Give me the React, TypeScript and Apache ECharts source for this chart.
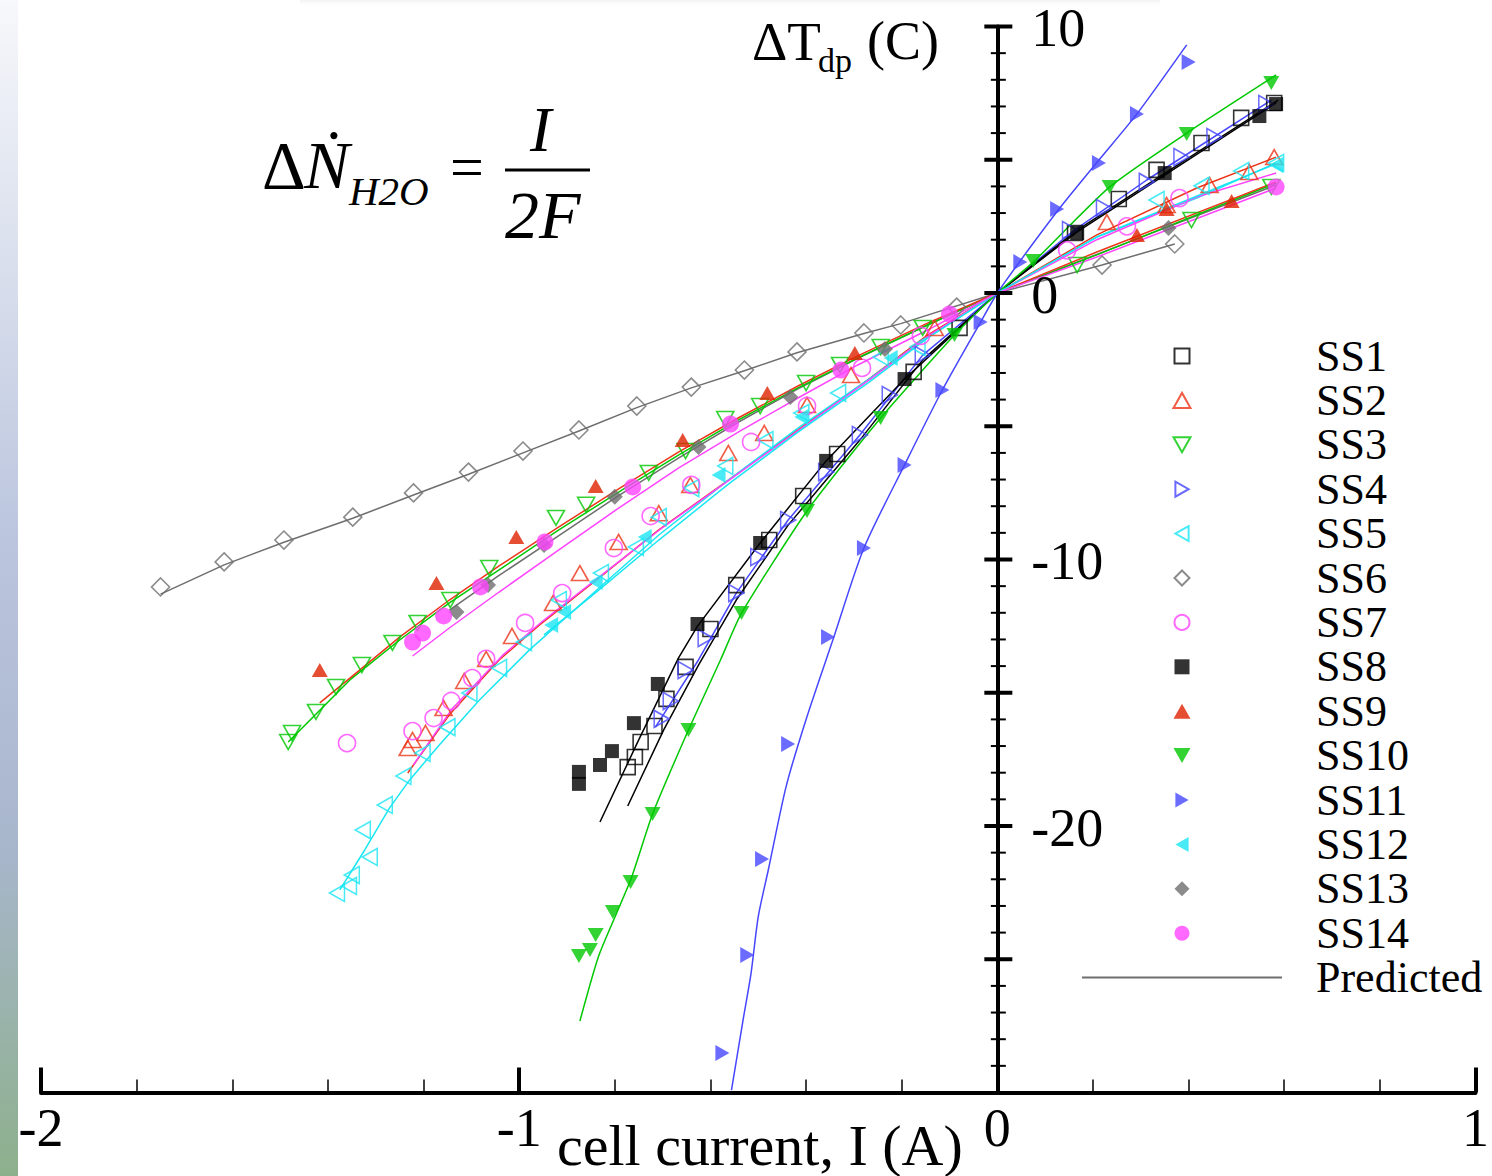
import React, { useEffect, useRef } from 'react';
import * as echarts from 'echarts';

const FONT = '"Liberation Serif", "Times New Roman", "DejaVu Serif", serif';

// ---------- axis ticks / labels ----------
const xTickLabels = [-2, -1, 0, 1];
const yTickLabels = [-20, -10, 0, 10];
const yMajorTicks = [-25, -20, -15, -10, -5, 0, 5, 10];
const yMinorTicks = [-29, -28, -27, -26, -24, -23, -22, -21, -19, -18, -17, -16, -14, -13, -12, -11, -9, -8, -7, -6, -4, -3, -2, -1, 1, 2, 3, 4, 6, 7, 8, 9];

// ---------- measured points [I (A), dT (C)] ----------
const ss1Points = [[-0.773, -17.79], [-0.758, -17.41], [-0.746, -16.85], [-0.717, -16.25], [-0.692, -15.23], [-0.652, -14.03], [-0.6, -12.61], [-0.546, -10.96], [-0.477, -9.27], [-0.406, -7.62], [-0.335, -6.04], [-0.175, -2.96], [-0.079, -1.31], [0.1625, 2.25], [0.254, 3.53], [0.333, 4.62], [0.427, 5.63], [0.51, 6.57], [0.579, 7.13]];
const ss2Points = [[-1.233, -17.07], [-1.223, -16.77], [-1.196, -16.51], [-1.158, -15.57], [-1.115, -14.56], [-1.069, -13.73], [-1.015, -12.87], [-0.929, -11.63], [-0.873, -10.51], [-0.792, -9.34], [-0.708, -8.26], [-0.642, -7.2], [-0.5625, -6.0], [-0.4875, -5.25], [-0.398, -4.2], [-0.306, -3.08], [-0.131, -1.31], [0.229, 2.66], [0.354, 3.3], [0.444, 4.05], [0.527, 4.54], [0.579, 5.1]];
const ss3Points = [[-1.483, -16.85], [-1.475, -16.51], [-1.425, -15.72], [-1.383, -14.78], [-1.329, -13.96], [-1.265, -13.13], [-1.2125, -12.38], [-1.144, -11.52], [-1.0625, -10.32], [-0.923, -8.44], [-0.86, -7.95], [-0.729, -6.75], [-0.652, -5.93], [-0.569, -4.73], [-0.496, -4.24], [-0.4, -3.38], [-0.329, -2.7], [-0.244, -2.03], [-0.156, -1.31], [0.167, 1.05], [0.406, 2.74], [0.573, 3.98]];
const ss4Points = [[-0.702, -15.98], [-0.683, -15.31], [-0.652, -14.15], [-0.61, -12.95], [-0.546, -11.26], [-0.5, -9.91], [-0.4375, -8.52], [-0.358, -6.72], [-0.2875, -5.33], [-0.225, -3.83], [-0.156, -2.33], [0.152, 2.36], [0.223, 3.19], [0.3125, 4.17], [0.385, 5.1], [0.454, 5.85], [0.5625, 7.09]];
const ss5Points = [[-1.381, -22.51], [-1.356, -22.25], [-1.35, -21.84], [-1.3125, -21.16], [-1.327, -20.15], [-1.281, -19.21], [-1.242, -18.12], [-1.202, -17.26], [-1.15, -16.29], [-1.104, -15.01], [-1.042, -14.07], [-0.99, -13.1], [-0.917, -11.52], [-0.829, -10.51], [-0.756, -9.53], [-0.708, -8.41], [-0.64, -7.32], [-0.569, -6.49], [-0.485, -5.52], [-0.41, -4.5], [-0.333, -3.75], [-0.244, -2.4], [-0.167, -2.03], [0.333, 3.49], [0.427, 4.02], [0.51, 4.58], [0.583, 4.88]];
const ss6Points = [[-1.75, -11.03], [-1.617, -10.09], [-1.492, -9.27], [-1.348, -8.41], [-1.221, -7.5], [-1.106, -6.72], [-0.992, -5.93], [-0.875, -5.14], [-0.754, -4.24], [-0.64, -3.53], [-0.529, -2.89], [-0.419, -2.21], [-0.279, -1.5], [-0.202, -1.2], [-0.085, -0.53], [0.219, 1.05], [0.371, 1.84]];
const ss7Points = [[-1.36, -16.89], [-1.223, -16.44], [-1.179, -15.95], [-1.142, -15.31], [-1.098, -14.45], [-1.069, -13.73], [-0.9875, -12.38], [-0.91, -11.26], [-0.802, -9.57], [-0.725, -8.37], [-0.64, -7.2], [-0.515, -5.59], [-0.398, -4.24], [-0.283, -2.81], [-0.16, -1.61], [0.146, 1.6], [0.271, 2.5], [0.381, 3.56]];
const ss8Points = [[-0.875, -17.97], [-0.875, -18.42], [-0.831, -17.71], [-0.806, -17.19], [-0.76, -16.14], [-0.71, -14.67], [-0.627, -12.42], [-0.496, -9.38], [-0.358, -6.3], [-0.194, -3.23], [0.167, 2.25], [0.35, 4.5], [0.548, 6.64], [0.583, 7.09]];
const ss9Points = [[-1.417, -14.15], [-1.173, -10.88], [-1.006, -9.16], [-0.84, -7.24], [-0.658, -5.52], [-0.481, -3.75], [-0.298, -2.25], [0.292, 2.18], [0.354, 3.15], [0.49, 3.45]];
const ss10Points = [[-0.875, -24.88], [-0.852, -24.65], [-0.84, -24.09], [-0.804, -23.23], [-0.767, -22.1], [-0.721, -19.55], [-0.646, -16.4], [-0.535, -12.01], [-0.398, -8.18], [-0.244, -4.69], [-0.0896, -1.58], [0.075, 1.2], [0.235, 3.98], [0.396, 5.97], [0.573, 7.88]];
const ss11Points = [[-0.575, -28.52], [-0.523, -24.84], [-0.492, -21.24], [-0.4375, -16.92], [-0.354, -12.91], [-0.279, -9.57], [-0.194, -6.45], [-0.115, -3.64], [-0.035, -1.09], [0.048, 1.16], [0.125, 3.15], [0.2125, 4.88], [0.292, 6.72], [0.4, 8.67]];
const ss12Points = [[-0.933, -12.46], [-0.906, -11.97], [-0.84, -10.84], [-0.7375, -9.16], [-0.583, -6.83], [-0.41, -4.65], [-0.223, -2.44], [0.583, 4.8]];
const ss13Points = [[-1.131, -11.97], [-1.065, -10.96], [-0.948, -9.46], [-0.8, -7.65], [-0.625, -5.78], [-0.433, -3.9], [-0.235, -2.1], [0.358, 2.44]];
const ss14Points = [[-1.223, -13.1], [-1.202, -12.76], [-1.158, -12.12], [-1.081, -11.03], [-0.946, -9.34], [-0.7625, -7.28], [-0.558, -4.92], [-0.327, -2.89], [-0.1, -0.79], [0.583, 3.98]];

// ---------- predicted curves ----------
const ss1Pred = [[-0.773, -19.25], [-0.698, -16.4], [-0.625, -13.96], [-0.546, -11.52], [-0.4375, -8.71], [-0.2875, -5.52], [-0.156, -2.51], [0, 0], [0.167, 2.29], [0.354, 4.47], [0.583, 7.13]];
const ss2Pred = [[-1.233, -18.01], [-1.146, -15.83], [-1.042, -13.77], [-0.958, -12.46], [-0.833, -10.69], [-0.708, -8.89], [-0.5625, -7.02], [-0.417, -5.14], [-0.271, -3.26], [-0.146, -1.58], [0, 0], [0.208, 2.18], [0.417, 3.94], [0.583, 5.1]];
const ss3Pred = [[-1.483, -16.85], [-1.354, -14.52], [-1.25, -13.02], [-1.146, -11.63], [-1.042, -10.39], [-0.917, -8.89], [-0.792, -7.47], [-0.667, -6.08], [-0.542, -4.77], [-0.417, -3.56], [-0.292, -2.44], [-0.146, -1.2], [0, 0], [0.208, 1.43], [0.583, 4.13]];
const ss4Pred = [[-0.715, -16.29], [-0.625, -13.77], [-0.546, -11.26], [-0.4375, -8.52], [-0.2875, -5.33], [-0.156, -2.33], [0, 0], [0.156, 2.29], [0.3125, 4.24], [0.573, 7.24]];
const ss5Pred = [[-1.375, -22.4], [-1.323, -20.9], [-1.271, -19.32], [-1.229, -18.27], [-1.167, -16.96], [-1.083, -15.27], [-0.979, -13.4], [-0.833, -11.07], [-0.708, -9.08], [-0.5625, -7.02], [-0.417, -5.07], [-0.271, -3.26], [-0.146, -1.65], [0, 0], [0.208, 2.1], [0.417, 3.56], [0.583, 4.88]];
const ss6Pred = [[-1.75, -11.3], [-1.617, -10.2], [-1.492, -9.35], [-1.348, -8.45], [-1.221, -7.58], [-1.106, -6.8], [-0.992, -6.0], [-0.875, -5.18], [-0.754, -4.3], [-0.64, -3.56], [-0.529, -2.92], [-0.419, -2.24], [-0.279, -1.52], [-0.202, -1.15], [0, 0], [0.219, 1.05], [0.371, 1.84]];
const ss7Pred = [[-1.221, -17.7], [-1.14, -15.6], [-1.035, -13.6], [-0.95, -12.3], [-0.825, -10.55], [-0.7, -8.8], [-0.555, -6.95], [-0.41, -5.08], [-0.265, -3.22], [-0.14, -1.55], [0, 0], [0.208, 2.0], [0.417, 3.6], [0.583, 4.5]];
const ss8Pred = [[-0.831, -19.85], [-0.75, -16.77], [-0.667, -13.7], [-0.627, -12.5], [-0.496, -9.38], [-0.358, -6.3], [-0.194, -3.23], [0, 0], [0.167, 2.36], [0.354, 4.54], [0.5875, 7.24]];
const ss9Pred = [[-1.417, -15.38], [-1.354, -14.45], [-1.25, -12.91], [-1.146, -11.52], [-1.042, -10.24], [-0.917, -8.78], [-0.792, -7.35], [-0.667, -5.97], [-0.542, -4.69], [-0.417, -3.49], [-0.292, -2.36], [-0.146, -1.13], [0, 0], [0.208, 1.54], [0.583, 4.17]];
const ss10Pred = [[-0.873, -27.32], [-0.833, -24.84], [-0.767, -22.03], [-0.721, -19.55], [-0.646, -16.4], [-0.579, -13.77], [-0.535, -12.01], [-0.398, -8.18], [-0.244, -4.69], [-0.0896, -1.58], [0, 0], [0.075, 1.16], [0.235, 3.98], [0.396, 6.0], [0.583, 8.18]];
const ss11Pred = [[-0.556, -29.91], [-0.531, -27.2], [-0.515, -25.52], [-0.5, -23.4], [-0.479, -21.65], [-0.442, -18.54], [-0.4, -16.0], [-0.344, -13.02], [-0.279, -9.57], [-0.194, -6.45], [-0.115, -3.64], [-0.035, -1.09], [0, 0], [0.046, 1.16], [0.129, 3.15], [0.2125, 4.99], [0.292, 6.72], [0.396, 9.31]];
const ss12Pred = [[-0.948, -12.83], [-0.833, -11.14], [-0.708, -9.27], [-0.5625, -7.17], [-0.417, -5.22], [-0.271, -3.38], [-0.146, -1.69], [0, 0], [0.208, 2.1], [0.583, 4.85]];
const ss13Pred = [[-1.146, -11.9], [-1.042, -10.6], [-0.917, -9.1], [-0.792, -7.6], [-0.667, -6.2], [-0.542, -4.85], [-0.417, -3.6], [-0.292, -2.45], [-0.146, -1.2], [0, 0], [0.208, 1.45], [0.583, 4.05]];
const ss14Pred = [[-1.223, -13.62], [-1.146, -12.57], [-1.042, -11.22], [-0.917, -9.64], [-0.792, -8.07], [-0.667, -6.57], [-0.542, -5.22], [-0.417, -3.94], [-0.292, -2.7], [-0.146, -1.39], [0, 0], [0.208, 1.35], [0.583, 3.94]];

const seriesNames = ['SS1', 'SS2', 'SS3', 'SS4', 'SS5', 'SS6', 'SS7', 'SS8', 'SS9', 'SS10', 'SS11', 'SS12', 'SS13', 'SS14'];
const predictedName = 'Predicted';

// ---------- styling ----------
const BLACK = '#000000';
const RED = '#ec3418';
const RED_F = '#e02200';
const GREEN = '#00c800';
const BLUE = '#4646ff';
const CYAN = '#1ae6f2';
const GRAY = '#6e6e6e';
const MAGENTA = '#ff44ff';

const SQUARE = 'path://M0,0L14,0L14,14L0,14Z';
const DIAMOND = 'path://M9,0L18,9L9,18L0,9Z';
const TRI_UP = 'path://M0,15L8.5,0L17,15Z';
const TRI_DOWN = 'path://M0,0L17,0L8.5,15Z';
const TRI_RIGHT = 'path://M0,0L15,8.5L0,17Z';
const TRI_LEFT = 'path://M15,0L0,8.5L15,17Z';
const LINE_ICON = 'path://M0,0L100,0L100,1L0,1Z';

const styles = [
  { color: BLACK, line: BLACK, symbol: SQUARE, size: 15, hollow: true },
  { color: RED, line: RED, symbol: TRI_UP, size: [17, 15], hollow: true },
  { color: GREEN, line: GREEN, symbol: TRI_DOWN, size: [17, 15], hollow: true },
  { color: BLUE, line: BLUE, symbol: TRI_RIGHT, size: [15, 17], hollow: true },
  { color: CYAN, line: CYAN, symbol: TRI_LEFT, size: [15, 17], hollow: true },
  { color: GRAY, line: GRAY, symbol: DIAMOND, size: 18, hollow: true },
  { color: MAGENTA, line: MAGENTA, symbol: 'circle', size: 17, hollow: true },
  { color: BLACK, line: BLACK, symbol: SQUARE, size: 14, hollow: false },
  { color: RED_F, line: RED, symbol: TRI_UP, size: [16, 14], hollow: false },
  { color: GREEN, line: GREEN, symbol: TRI_DOWN, size: [16, 14], hollow: false },
  { color: BLUE, line: BLUE, symbol: TRI_RIGHT, size: [14, 16], hollow: false },
  { color: CYAN, line: CYAN, symbol: TRI_LEFT, size: [14, 16], hollow: false },
  { color: GRAY, line: GRAY, symbol: DIAMOND, size: 16, hollow: false },
  { color: MAGENTA, line: MAGENTA, symbol: 'circle', size: 17, hollow: false },
];

const pointSets = [ss1Points, ss2Points, ss3Points, ss4Points, ss5Points, ss6Points, ss7Points, ss8Points, ss9Points, ss10Points, ss11Points, ss12Points, ss13Points, ss14Points];
const predSets = [ss1Pred, ss2Pred, ss3Pred, ss4Pred, ss5Pred, ss6Pred, ss7Pred, ss8Pred, ss9Pred, ss10Pred, ss11Pred, ss12Pred, ss13Pred, ss14Pred];
const predZ = [3, 3, 3, 3, 3, 3, 3, 3, 3, 3, 3, 3, 2, 3];
const predSmooth = [0, 0, 0, 0, 0, 0, 0, 0, 0, 0.2, 0.25, 0, 0, 0];

function buildOption() {
  const series: any[] = [];
  seriesNames.forEach((name, i) => {
    const s = styles[i];
    series.push({
      name: name + ' predicted',
      type: 'line',
      data: predSets[i],
      symbol: 'none',
      showSymbol: false,
      smooth: predSmooth[i],
      lineStyle: { color: s.line, width: 1.5 },
      itemStyle: { color: s.line },
      z: predZ[i],
      silent: true,
    });
  });
  seriesNames.forEach((name, i) => {
    const s = styles[i];
    series.push({
      name,
      type: 'scatter',
      data: pointSets[i],
      symbol: s.symbol,
      symbolSize: s.size,
      itemStyle: s.hollow
        ? { color: 'rgba(0,0,0,0)', borderColor: s.color, borderWidth: 1.6 }
        : { color: s.color, borderWidth: 0 },
      z: 5,
      silent: true,
    });
  });
  series.push({
    name: predictedName,
    type: 'line',
    data: [],
    symbol: 'none',
    lineStyle: { color: GRAY, width: 2 },
    itemStyle: { color: GRAY },
  });
  // y-axis ticks on both sides of the axis line (axis sits at I = 0)
  series.push({
    type: 'custom',
    name: 'yticks',
    silent: true,
    clip: false,
    z: 10,
    data: yMajorTicks.map((v) => [0, v, 14, 4]).concat(yMinorTicks.map((v) => [0, v, 7.5, 2])),
    renderItem: (params: any, api: any) => {
      const p = api.coord([api.value(0), api.value(1)]);
      const half = api.value(2);
      return {
        type: 'line',
        shape: { x1: p[0] + 1 - half, y1: p[1], x2: p[0] + 1 + half, y2: p[1] },
        style: { stroke: '#000', lineWidth: api.value(3) },
      };
    },
  });
  // y-axis labels to the right of the axis line
  series.push({
    type: 'custom',
    name: 'ylabels',
    silent: true,
    clip: false,
    z: 10,
    data: yTickLabels.map((v) => [0, v]),
    renderItem: (params: any, api: any) => {
      const p = api.coord([api.value(0), api.value(1)]);
      return {
        type: 'text',
        x: p[0] + 34,
        y: p[1] + 1.5,
        style: {
          text: String(api.value(1)),
          fill: '#000',
          fontFamily: FONT,
          fontSize: 54,
          lineHeight: 44,
          textAlign: 'left',
          textVerticalAlign: 'middle',
          align: 'left',
          verticalAlign: 'middle',
        },
      };
    },
  });

  const txt = (x: number, y: number, text: string, size: number, italic = false) => ({
    type: 'text',
    x,
    y,
    silent: true,
    style: {
      text,
      fill: '#000',
      fontFamily: FONT,
      fontSize: size,
      fontStyle: italic ? 'italic' : 'normal',
      textAlign: 'left',
      textVerticalAlign: 'middle',
    },
  });

  return {
    animation: false,
    backgroundColor: '#ffffff',
    textStyle: { fontFamily: FONT },
    grid: { left: 41, right: 11, top: 26.5, bottom: 83.5, containLabel: false },
    xAxis: {
      type: 'value',
      min: -2,
      max: 1,
      interval: 1,
      axisLine: { onZero: false, lineStyle: { color: '#000', width: 4 } },
      axisTick: { show: true, inside: true, length: 25, lineStyle: { color: '#000', width: 4 } },
      minorTick: { show: true, splitNumber: 5, length: 13, lineStyle: { color: '#000', width: 1.5 } },
      axisLabel: {
        margin: 8,
        fontSize: 54,
        fontFamily: FONT,
        color: '#000',
        formatter: (v: number) => (xTickLabels.indexOf(v) >= 0 ? String(v) : ''),
      },
      splitLine: { show: false },
      minorSplitLine: { show: false },
    },
    yAxis: {
      type: 'value',
      min: -30,
      max: 10,
      interval: 5,
      axisLine: { onZero: true, lineStyle: { color: '#000', width: 4 } },
      axisTick: { show: false },
      axisLabel: { show: false },
      splitLine: { show: false },
    },
    legend: {
      orient: 'vertical',
      left: 1082,
      top: 334,
      padding: 0,
      itemWidth: 200,
      itemHeight: 15,
      itemGap: 0.4,
      selectedMode: false,
      data: seriesNames.map((n) => ({ name: n })).concat([{ name: predictedName, icon: LINE_ICON } as any]),
      textStyle: { fontFamily: FONT, fontSize: 44, color: '#000', lineHeight: 44, padding: [0, 0, 0, 29] },
    },
    graphic: [
      {
        type: 'rect',
        silent: true,
        z: -10,
        shape: { x: 0, y: 0, width: 18, height: 1176 },
        style: {
          fill: new echarts.graphic.LinearGradient(0, 0, 0, 1, [
            { offset: 0, color: '#f7f8fb' },
            { offset: 0.08, color: '#eceff6' },
            { offset: 0.45, color: '#bcc6de' },
            { offset: 0.72, color: '#a8b6cc' },
            { offset: 1, color: '#8db08c' },
          ]),
        },
      },
      {
        type: 'rect',
        silent: true,
        z: -10,
        shape: { x: 300, y: 0, width: 860, height: 7 },
        style: {
          fill: new echarts.graphic.LinearGradient(0, 0, 0, 1, [
            { offset: 0, color: 'rgba(210,212,218,0.3)' },
            { offset: 1, color: 'rgba(255,255,255,0)' },
          ]),
        },
      },
      // formula
      txt(262, 165, 'Δ', 68),
      txt(304, 165, 'Ṅ', 68, true),
      txt(349, 191, 'H2O', 41, true),
      txt(450, 167, '=', 60),
      txt(530, 129, 'I', 64, true),
      {
        type: 'line',
        silent: true,
        shape: { x1: 505, y1: 170, x2: 590, y2: 170 },
        style: { stroke: '#000', lineWidth: 3 },
      },
      txt(505, 215, '2F', 68, true),
      // y-axis title
      txt(752, 41, 'ΔT', 55),
      txt(818, 60, 'dp', 34),
      txt(867, 41, '(C)', 54),
      // x-axis title
      txt(557, 1145, 'cell current, I (A)', 58),
    ],
    series,
  };
}

export default function App() {
  const ref = useRef<HTMLDivElement>(null);
  useEffect(() => {
    if (!ref.current) return;
    const chart = echarts.init(ref.current, undefined, { renderer: 'svg' });
    chart.setOption(buildOption() as any);
    return () => chart.dispose();
  }, []);
  return (
    <div
      ref={ref}
      style={{ position: 'absolute', left: 0, top: 0, width: 1492, height: 1176, background: '#fff' }}
    />
  );
}
